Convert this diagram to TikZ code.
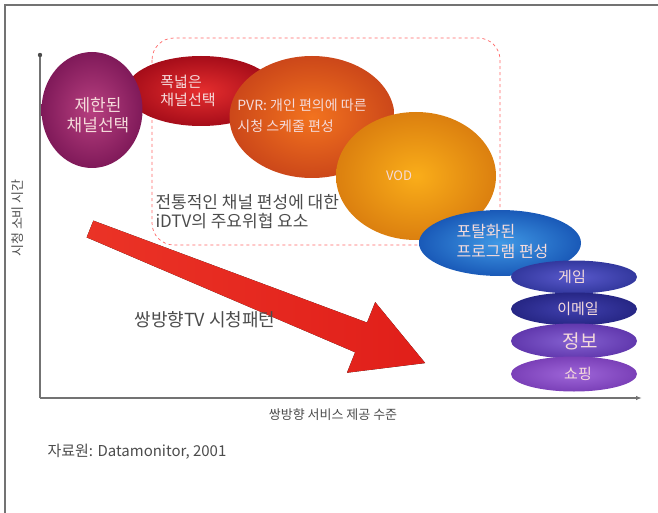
\documentclass[tikz,border=0pt]{standalone}
\usepackage{fontspec}
\usepackage{tikz}
\usetikzlibrary{shapes.geometric,arrows.meta}
\newfontfamily\kr{Noto Sans CJK KR}

\definecolor{lbl}{rgb}{0.96,0.86,0.86}
\definecolor{axisgray}{rgb}{0.45,0.45,0.45}
\definecolor{txtgray}{rgb}{0.3,0.3,0.3}

\begin{document}
\begin{tikzpicture}[x=1pt,y=-1pt,
    every node/.style={font=\kr},
    blob/.style={ellipse,inner sep=0pt,text=lbl,align=center},
    item/.style={blob,minimum width=126pt,minimum height=33pt,font=\kr\fontsize{15}{17}\selectfont}]
  \useasboundingbox (0,0) rectangle (658,513);
  % frame
  \draw[axisgray,line width=1.2pt] (5,513) -- (5,5) -- (658,5);
  % threat area
  \draw[red!60,dashed,line width=0.7pt,rounded corners=22pt] (152,38) rectangle (500,245);
  % axes
  \draw[axisgray,line width=1.8pt,-{Latex[length=6pt]}] (40,398) -- (642,398);
  \draw[axisgray,line width=1.8pt] (40,398) -- (40,56);
  \fill[black!70] (40,55) circle (2.2pt);
  \node[rotate=90,txtgray,font=\kr\fontsize{13}{15}\selectfont] (ylab) at (18,218) {시청 소비 시간};
  \node[txtgray,font=\kr\fontsize{13}{15}\selectfont] (xlab) at (333,415) {쌍방향 서비스 제공 수준};
  % ellipses
  \node[blob,minimum width=150pt,minimum height=70pt,
        inner color={rgb,1:red,0.9;green,0.18;blue,0.18},outer color={rgb,1:red,0.65;green,0.05;blue,0.1}] (wide) at (201,91) {};
  \node[text=lbl,align=left,font=\kr\fontsize{15}{18}\selectfont] (widetxt) at (188,91) {폭넓은\\채널선택};
  \node[blob,minimum width=101pt,minimum height=116pt,
        inner color={rgb,1:red,0.72;green,0.25;blue,0.5},outer color={rgb,1:red,0.5;green,0.1;blue,0.35},
        font=\kr\fontsize{17}{20}\selectfont] (limited) at (92,110) {};
  \node[text=lbl,align=center,font=\kr\fontsize{17}{20}\selectfont] (limitedtxt) at (98,115) {제한된\\채널선택};
  \node[blob,minimum width=165pt,minimum height=122pt,
        inner color={rgb,1:red,0.95;green,0.45;blue,0.12},outer color={rgb,1:red,0.8;green,0.28;blue,0.1}] (pvr) at (312,117) {};
  \node[text=lbl,align=left,font=\kr\fontsize{14}{21}\selectfont] (pvrtxt) at (302,116) {PVR: 개인 편의에 따른\\시청 스케줄 편성};
  \node[blob,minimum width=160pt,minimum height=128pt,
        inner color={rgb,1:red,0.98;green,0.68;blue,0.1},outer color={rgb,1:red,0.86;green,0.5;blue,0.06},
        font=\kr\fontsize{13}{15}\selectfont] (vod) at (416,176) {\hspace*{-34pt}VOD};
  \node[anchor=west,txtgray,align=left,font=\kr\fontsize{17}{19}\selectfont] (threat) at (152,212) {전통적인 채널 편성에 대한\\iDTV의 주요위협 요소};
  \node[blob,minimum width=162pt,minimum height=66pt,
        inner color={rgb,1:red,0.25;green,0.6;blue,0.9},outer color={rgb,1:red,0.1;green,0.35;blue,0.72}] (portal) at (500,243) {};
  \node[anchor=west,text=lbl,align=left,font=\kr\fontsize{16}{20}\selectfont] (portaltxt) at (453,241) {포탈화된\\프로그램 편성};
  \node[item,inner color={rgb,1:red,0.35;green,0.35;blue,0.8},outer color={rgb,1:red,0.2;green,0.22;blue,0.62}] (game) at (574,277) {\hspace*{-4pt}게임};
  \node[item,inner color={rgb,1:red,0.25;green,0.25;blue,0.68},outer color={rgb,1:red,0.15;green,0.15;blue,0.52}] (email) at (574,309) {\hspace*{8pt}이메일};
  \node[item,minimum height=35pt,inner color={rgb,1:red,0.52;green,0.38;blue,0.82},outer color={rgb,1:red,0.38;green,0.22;blue,0.68},
        font=\kr\fontsize{19}{21}\selectfont] (info) at (574,341) {\hspace*{12pt}정보};
  \node[item,minimum height=35pt,inner color={rgb,1:red,0.62;green,0.4;blue,0.85},outer color={rgb,1:red,0.48;green,0.25;blue,0.72}] (shop) at (574,374) {\hspace*{8pt}쇼핑};
  % big arrow
  \begin{scope}[shift={(90,229)},rotate=-21.8]
    \fill[left color={rgb,1:red,0.92;green,0.2;blue,0.15},right color={rgb,1:red,0.88;green,0.12;blue,0.1}]
      (0,-9) -- (292,-16) -- (292,-38) -- (361,0) -- (292,38) -- (292,16) -- (0,9) -- cycle;
  \end{scope}
  \node[txtgray,font=\kr\fontsize{18}{20}\selectfont] (pattern) at (205,320) {쌍방향TV 시청패턴};
  \node[anchor=west,txtgray,font=\kr\fontsize{15}{17}\selectfont] (source) at (44,452) {자료원: Datamonitor, 2001};
\end{tikzpicture}
\end{document}
